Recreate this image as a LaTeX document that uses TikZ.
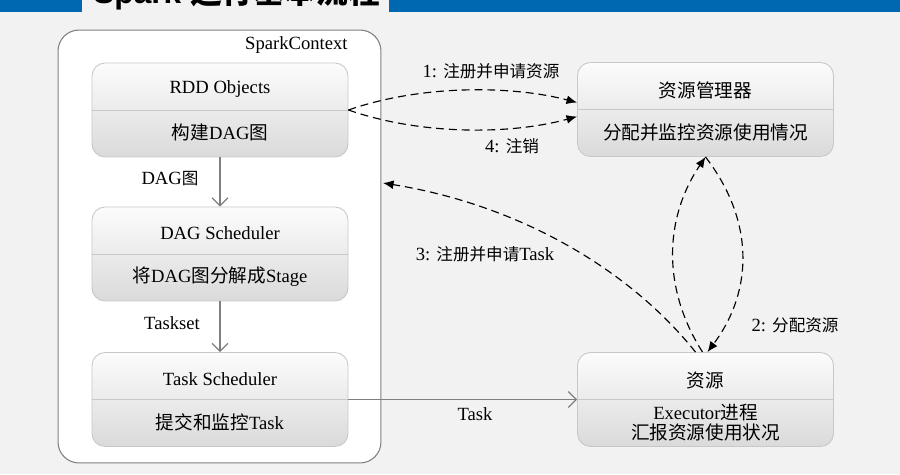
\documentclass[tikz,border=0pt]{standalone}
\usepackage{fontspec}
\setmainfont{Liberation Serif}
\newfontfamily\cjk{Noto Sans CJK SC}
\newfontfamily\cjksm[Scale=0.89]{Noto Sans CJK SC}
\newfontfamily\hdrsans{Liberation Sans}
\usetikzlibrary{arrows.meta, positioning, calc}
\definecolor{mybg}{RGB}{242,242,242}
\definecolor{myblue}{RGB}{0,103,177}
\definecolor{myframe}{RGB}{128,128,128}
\definecolor{myedge}{RGB}{200,200,200}
\definecolor{mygray}{RGB}{127,127,127}
\definecolor{mytop}{RGB}{252,252,252}
\definecolor{mybottom}{RGB}{218,218,218}
\newcommand{\zh}[1]{{\cjk #1}}
\newcommand{\zhs}[1]{{\cjksm #1}}
\tikzset{
  ctxbox/.style={rectangle, draw=myframe, fill=white,
    rounded corners=0.42cm, minimum width=6.46cm, minimum height=8.66cm,
    line width=0.6pt},
  stagebox/.style={rectangle, draw=myedge, top color=mytop,
    bottom color=mybottom, rounded corners=0.26cm, minimum width=5.12cm,
    minimum height=1.88cm, line width=0.5pt},
  boxtext/.style={font=\fontsize{10.6}{11.4}\selectfont, align=center,
    inner sep=0pt},
  lbl/.style={font=\fontsize{10.6}{12}\selectfont, inner sep=0pt},
  divline/.style={draw=myedge, line width=0.5pt},
  flow/.style={-{Straight Barb[length=4.5pt, width=9pt, line width=0.7pt]},
    draw=mygray, line width=0.75pt},
  dasharrow/.style={-{Latex[length=6pt, width=5pt]},
    dash pattern=on 4.5pt off 2.8pt, line width=0.65pt, black}
}

\begin{document}
\begin{tikzpicture}[x=0.02cm, y=-0.02cm]
  % Page and header bar
  \useasboundingbox (0,0) rectangle (900,474);
  \clip (0,0) rectangle (900,474);
  \fill[mybg] (0,0) rectangle (900,474);
  \fill[myblue] (0,0) rectangle (82,12);
  \fill[myblue] (389,0) rectangle (900,12);
  \node[anchor=base west, inner sep=0pt,
    font=\fontsize{18}{20}\selectfont] (title) at (93,3)
    {\hdrsans\bfseries Spark \zh{运行基本流程}};

  % SparkContext frame
  \node[ctxbox] (ctx) at (219.5,246.5) {};
  \node[lbl, anchor=base east] (ctxname) at (348,49) {SparkContext};

  % Stage boxes
  \node[stagebox] (rdd) at (220,110) {};
  \node[stagebox] (dag) at (220,254) {};
  \node[stagebox] (ts) at (220,399.5) {};
  \node[stagebox] (rm) at (705.5,109.5) {};
  \node[stagebox] (res) at (705.5,399.5) {};
  \foreach \bx in {rdd,dag,ts,rm,res}
    \draw[divline] (\bx.west) -- (\bx.east);

  \node[boxtext] (rddtop) at ($(rdd.center)+(0,-21)$) {RDD Objects};
  \node[boxtext] (rddbot) at ($(rdd.center)+(0,22)$) {\zh{构建}DAG\zh{图}};
  \node[boxtext] (dagtop) at ($(dag.center)+(0,-21)$) {DAG Scheduler};
  \node[boxtext] (dagbot) at ($(dag.center)+(0,23)$)
    {\zh{将}DAG\zh{图分解成}Stage};
  \node[boxtext] (tstop) at ($(ts.center)+(0,-20.5)$) {Task Scheduler};
  \node[boxtext] (tsbot) at ($(ts.center)+(0,22.5)$) {\zh{提交和监控}Task};
  \node[boxtext] (rmtop) at ($(rm.center)+(0,-19.5)$) {\zh{资源管理器}};
  \node[boxtext] (rmbot) at ($(rm.center)+(0,22.5)$)
    {\zh{分配并监控资源使用情况}};
  \node[boxtext] (restop) at ($(res.center)+(0,-19.5)$) {\zh{资源}};
  \node[boxtext] (resbot) at ($(res.center)+(0,23.5)$)
    {Executor\zh{进程}\\\zh{汇报资源使用状况}};

  % Solid flow inside the driver
  \draw[flow] (rdd) -- (dag);
  \node[lbl] (dagl) at (170,179) {DAG\zhs{图}};
  \draw[flow] (dag) -- (ts);
  \node[lbl] (tsl) at (172,323) {Taskset};
  \draw[flow] (ts.east) -- (res.west);
  \node[lbl] (taskl) at (475,414) {Task};

  % 1 and 4: driver <-> resource manager
  \draw[dasharrow] (rdd.east) .. controls (420,85) and (510,85)
    .. ($(rm.west)+(0,-7)$);
  \draw[dasharrow] (rdd.east) .. controls (420,135) and (510,135)
    .. ($(rm.west)+(0,7)$);
  \node[lbl] (reg) at (491,71) {1: \zhs{注册并申请资源}};
  \node[lbl] (unreg) at (512,146) {4: \zhs{注销}};

  % 2: resource manager <-> executor
  \draw[dasharrow] ($(res.north)+(-3,0)$) .. controls (663,290) and (663,220)
    .. (rm.south);
  \draw[dasharrow] (rm.south) .. controls (754,220) and (754,290)
    .. ($(res.north)+(2,0)$);
  \node[lbl] (alloc) at (795,325) {2: \zhs{分配资源}};

  % 3: executor registers back to SparkContext
  \coordinate (ctxin) at (383,183);
  \draw[dasharrow] ($(res.north)+(-10,0)$) .. controls (630,270) and (520,205)
    .. (ctxin);
  \node[lbl] (regtask) at (485,254) {3: \zhs{注册并申请}Task};
\end{tikzpicture}
\end{document}
